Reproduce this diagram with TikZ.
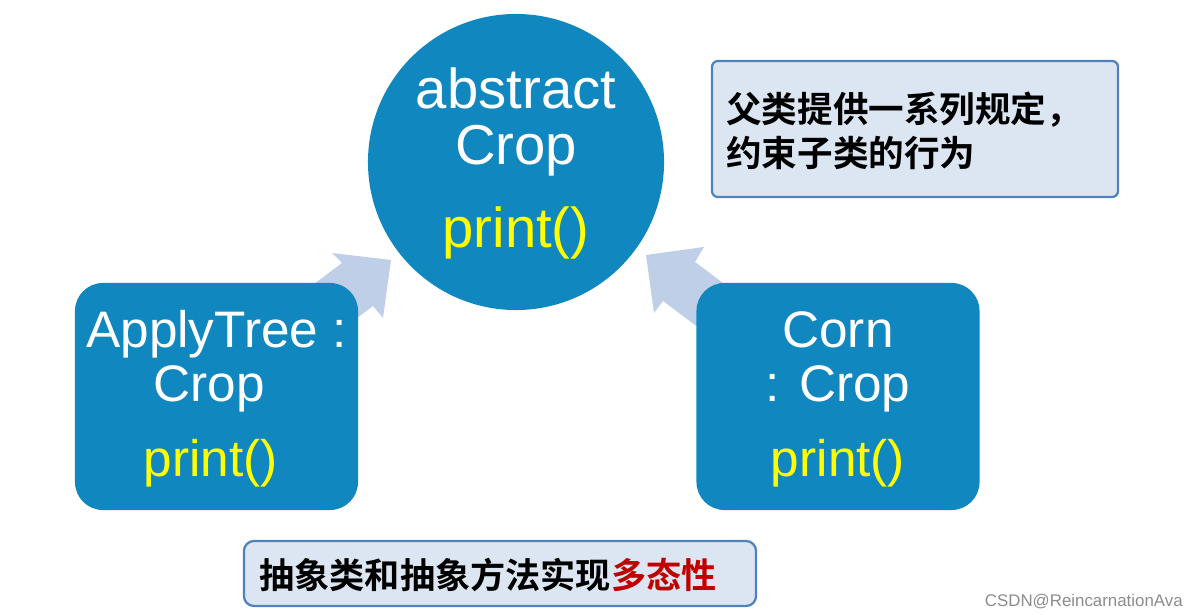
\documentclass[tikz,border=0pt]{standalone}
\usepackage{fontspec}
\setmainfont{Liberation Sans}
\newfontfamily\cjk{Noto Sans CJK SC Bold}
\definecolor{cropblue}{RGB}{17,135,192}
\definecolor{arrowblue}{RGB}{192,207,232}
\definecolor{notefill}{RGB}{220,230,242}
\definecolor{noteline}{RGB}{79,129,189}
\definecolor{polyred}{RGB}{192,0,0}
\definecolor{codeyellow}{RGB}{255,255,0}
\begin{document}
\begin{tikzpicture}[x=0.025cm,y=-0.025cm,
  bigtext/.style={anchor=base,text=white,inner sep=0pt,font=\fontsize{40}{44}\selectfont},
  boxtext/.style={anchor=base,text=white,inner sep=0pt,font=\fontsize{36.5}{40}\selectfont},
  classbox/.style={rectangle,rounded corners=0.7cm,fill=cropblue,minimum width=7.075cm,minimum height=5.675cm,inner sep=0pt},
  notebox/.style={rectangle,fill=notefill,draw=noteline,line width=1.6pt,inner sep=0pt},
]
\path[use as bounding box,fill=white] (0,0) rectangle (1201,615);
% block arrows (behind boxes)
\fill[arrowblue] (294,299) -- (342,263) -- (332,253) -- (391,260) -- (383,318) -- (373,306) -- (325,342) -- cycle;
\fill[arrowblue] (743,298) -- (695,262) -- (704,247) -- (646,255) -- (654,313) -- (663,301) -- (711,337) -- cycle;
% parent class
\node[circle,fill=cropblue,minimum size=7.4cm,inner sep=0pt] (crop) at (516,162) {};
\node[bigtext] (cropA) at (516,109) {abstract};
\node[bigtext] (cropB) at (516,165) {Crop};
\node[bigtext,text=codeyellow] (cropC) at (516,248) {print()};
% child classes
\node[classbox] (apple) at (216.5,396.5) {};
\node[boxtext] (appleA) at (216.5,348) {ApplyTree :};
\node[boxtext] (appleB) at (209,402) {Crop};
\node[boxtext,text=codeyellow] (appleC) at (210.5,476) {print()};
\node[classbox] (corn) at (838,396.5) {};
\node[boxtext] (cornA) at (838,348) {Corn};
\node[boxtext] (cornB) at (838,402) {: Crop};
\node[boxtext,text=codeyellow] (cornC) at (838,476) {print()};
% notes
\node[notebox,rounded corners=0.15cm,minimum width=10.15cm,minimum height=3.4cm] (note) at (915,129) {};
\node[anchor=west,inner sep=0pt,font=\cjk\fontsize{25.3}{30}\selectfont] (noteA) at (726,110) {父类提供一系列规定，};
\node[anchor=west,inner sep=0pt,font=\cjk\fontsize{25.3}{30}\selectfont] (noteB) at (726,153) {约束子类的行为};
\node[notebox,rounded corners=0.25cm,minimum width=12.8cm,minimum height=1.625cm] (poly) at (500,573.5) {};
\node[inner sep=0pt,font=\cjk\fontsize{25}{30}\selectfont] (polyT) at (488,575) {抽象类和抽象方法实现\textcolor{polyred}{多态性}};
% watermark
\node[anchor=base east,inner sep=0pt,text=black!45,font=\fontsize{12}{14}\selectfont] (wm) at (1183,606) {CSDN@ReincarnationAva};
\end{tikzpicture}
\end{document}
